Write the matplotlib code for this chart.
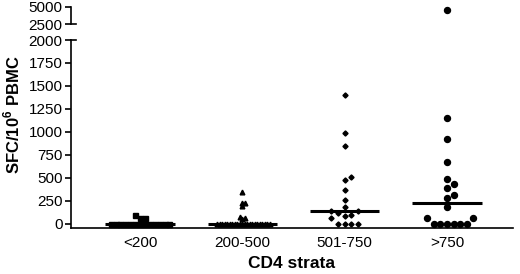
import numpy as np
import matplotlib
matplotlib.use('Agg')
import matplotlib.pyplot as plt

plt.rcParams['font.family'] = ['Liberation Sans', 'DejaVu Sans']
plt.rcParams['mathtext.fontset'] = 'custom'
plt.rcParams['mathtext.rm'] = 'Liberation Sans'
plt.rcParams['mathtext.bf'] = 'Liberation Sans:bold'

#categories and values (SFC per 10^6 PBMC)
groups = ['<200', '200-500', '501-750', '>750']
cd4_lt200 = [0]*13 + [70, 100, 62]
cd4_200_500 = [0]*22 + [55, 65, 80, 196, 225, 225, 345]
cd4_501_750 = [0]*4 + [62, 87, 98, 123, 145, 145, 188, 261, 370, 478, 514, 851, 986, 1400]
cd4_gt750 = [0]*6 + [62, 62, 181, 279, 315, 395, 431, 489, 677, 920, 1156, 4500]
all_data = [cd4_lt200, cd4_200_500, cd4_501_750, cd4_gt750]

markers = ['s', '^', 'D', 'o']
msizes = [3.6, 3.4, 2.6, 4.3]
spacing = [4.9, 2.5, 6.6, 6.6]   # pixel spacing in the swarm

W, H = 520, 274
fig = plt.figure(figsize=(W/100, H/100), dpi=100)
ax = fig.add_axes([71/W, (H-228)/H, (513-71)/W, (228-40)/H])
axt = fig.add_axes([71/W, (H-24)/H, (513-71)/W, (24-7)/H])

ax.set_xlim(0.325, 4.645)
ax.set_ylim(-43.5, 2000)
axt.set_xlim(0.325, 4.645)
axt.set_ylim(2500, 5000)

def swarm(vals, xc, s, a):
    #simple beeswarm in pixel space, returns x in data units
    pts = []
    xs = []
    for v in vals:
        a_use = axt if v > 2000 else a
        px, py = a_use.transData.transform((xc, v))
        k = 0
        while True:
            step = (k + 1)//2 * (1 if k % 2 == 1 else -1)
            cx = px + step*s
            ok = True
            for (qx, qy) in pts:
                if (qx-cx)**2 + (qy-py)**2 < (s*0.999)**2:
                    ok = False
                    break
            if ok:
                break
            k += 1
        pts.append((cx, py))
        xs.append(a_use.transData.inverted().transform((cx, py))[0])
    return np.array(xs)

for i in range(len(groups)):
    vals = np.sort(np.array(all_data[i], dtype=float))
    xs = swarm(vals, i+1, spacing[i], ax)
    lo = vals <= 2000
    ax.plot(xs[lo], vals[lo], linestyle='none', marker=markers[i], ms=msizes[i],
            color='black', clip_on=False, zorder=3)
    if (~lo).any():
        axt.plot(xs[~lo], vals[~lo], linestyle='none', marker=markers[i], ms=msizes[i],
                 color='black', clip_on=False, zorder=3)
    med = np.median(vals)
    ax.plot([i+1-0.34, i+1+0.34], [med, med], color='black', lw=2.2, zorder=4,
            solid_capstyle='butt', clip_on=False)

for a in [ax, axt]:
    for sp in ['top', 'right']:
        a.spines[sp].set_visible(False)
    a.spines['left'].set_linewidth(1.2)
    a.tick_params(axis='y', labelsize=11, width=1.2, length=4, pad=2)
ax.spines['bottom'].set_linewidth(1.2)
axt.spines['bottom'].set_visible(False)
axt.set_xticks([])

ax.set_yticks([0, 250, 500, 750, 1000, 1250, 1500, 1750, 2000])
axt.set_yticks([2500, 5000])
ax.set_xticks([1, 2, 3, 4])
ax.set_xticklabels(groups, fontsize=11)
ax.tick_params(axis='x', length=0, pad=6)

#axis break marks
ax.plot([0, 0.012], [1, 1], transform=ax.transAxes, color='black', lw=1.2, clip_on=False)
axt.plot([0, 0.012], [0, 0], transform=axt.transAxes, color='black', lw=1.2, clip_on=False)

ax.set_xlabel('CD4 strata', fontsize=12.5, fontweight='bold', labelpad=4)
fig.text(12/W, (H-115)/H, r'SFC/10$^\mathbf{6}$ PBMC', rotation=90, fontsize=12,
         fontweight='bold', ha='center', va='center')

fig.savefig('out.png', dpi=100)
